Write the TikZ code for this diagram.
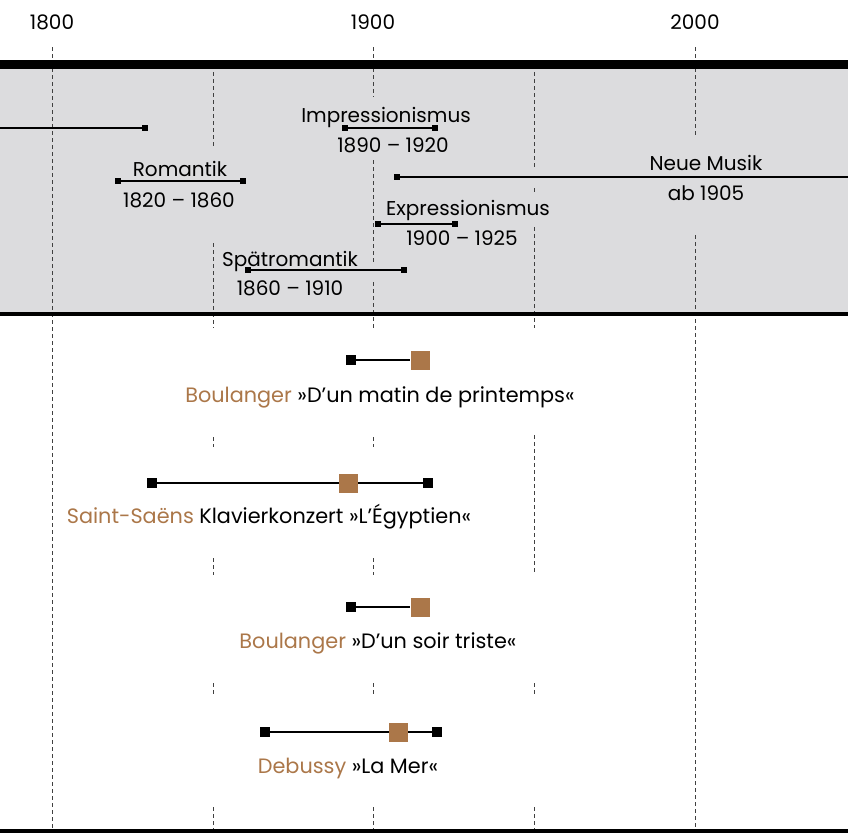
\documentclass[tikz,border=0pt]{standalone}
\usepackage{fontspec}
\setmainfont{Poppins}
\definecolor{band}{HTML}{DCDCDE}
\definecolor{ocker}{HTML}{AB7749}

\begin{document}
\begin{tikzpicture}[x=0.5pt,y=-0.5pt,
  lbl/.style={anchor=base,inner sep=0pt,font=\fontsize{10}{12}\selectfont},
  werk/.style={anchor=base,inner sep=0pt,font=\fontsize{10.4}{13}\selectfont},
  mk/.style={fill=black,minimum size=3pt,inner sep=0pt},
  wmk/.style={fill=black,minimum size=5pt,inner sep=0pt},
  jahr/.style={fill=ocker,minimum size=9.5pt,inner sep=0pt},
  epoche/.style={line width=0.65pt},
  dauer/.style={line width=1.3pt},
  raster/.style={line width=0.5pt,black!75,dash pattern=on 2pt off 1.5pt}]
\useasboundingbox (0,0) rectangle (848,832);
\fill[band] (0,64) rectangle (848,313);

% Jahresraster
\foreach \x/\a/\b in {52/47/832,
    213/65/147, 213/243/328, 213/437/447, 213/558/575, 213/683/697, 213/807/832,
    373/47/97, 373/160/263, 373/282/328, 373/437/447, 373/558/575, 373/683/697, 373/807/832,
    534/65/170, 534/188/192, 534/227/328, 534/435/575, 534/683/697, 534/807/832,
    695/47/138, 695/235/832}
  \draw[raster] (\x,\a) -- (\x,\b);

\node[lbl] (j1800) at (52,29) {1800};
\node[lbl] (j1900) at (373,29) {1900};
\node[lbl] (j2000) at (695,29) {2000};

\draw[line width=4.5pt] (0,64.5) -- (848,64.5);
\draw[line width=2pt] (0,313.5) -- (848,313.5);
\draw[line width=2pt] (0,831) -- (848,831);

% Epochen
\coordinate (kl0) at (0,128);
\node[mk] (kl1) at (145,128) {};
\path[draw,epoche] (kl0) -- (kl1);

\node[mk] (imp1) at (345,128) {};
\node[mk] (imp2) at (435,128) {};
\path[draw,epoche] (imp1) -- (imp2);
\node[lbl] (impname) at (386,122) {Impressionismus};
\node[lbl] (impzeit) at (393,152) {1890 – 1920};

\node[mk] (rom1) at (118,181) {};
\node[mk] (rom2) at (243,181) {};
\path[draw,epoche] (rom1) -- (rom2);
\node[lbl] (romname) at (180,176) {Romantik};
\node[lbl] (romzeit) at (179,207) {1820 – 1860};

\node[mk] (nm1) at (397,177) {};
\coordinate (nm2) at (848,177);
\path[draw,epoche] (nm1) -- (nm2);
\node[lbl] (nmname) at (706,170) {Neue Musik};
\node[lbl] (nmzeit) at (706,200) {ab 1905};

\node[mk] (exp1) at (378,224) {};
\node[mk] (exp2) at (455,224) {};
\path[draw,epoche] (exp1) -- (exp2);
\node[lbl] (expname) at (468,215) {Expressionismus};
\node[lbl] (expzeit) at (462,245) {1900 – 1925};

\node[mk] (spr1) at (248,270) {};
\node[mk] (spr2) at (404,270) {};
\path[draw,epoche] (spr1) -- (spr2);
\node[lbl] (sprname) at (290,266) {Spätromantik};
\node[lbl] (sprzeit) at (290,295) {1860 – 1910};

% Werke
\node[wmk] (bm1) at (351,360) {};
\node[jahr] (bm2) at (420,360) {};
\path[draw,dauer] (bm1) -- (bm2);
\node[werk] (bmtxt) at (380,402) {{\color{ocker}Boulanger} »D’un matin de printemps«};

\node[wmk] (ss1) at (152,483) {};
\node[wmk] (ss2) at (428,483) {};
\path[draw,dauer] (ss1) -- (ss2);
\node[jahr] (ssj) at (348,483) {};
\node[werk] (sstxt) at (269,523) {{\color{ocker}Saint-Saëns} Klavierkonzert »L’Égyptien«};

\node[wmk] (bs1) at (351,607) {};
\node[jahr] (bs2) at (420,607) {};
\path[draw,dauer] (bs1) -- (bs2);
\node[werk] (bstxt) at (378,648) {{\color{ocker}Boulanger} »D’un soir triste«};

\node[wmk] (dm1) at (265,732) {};
\node[wmk] (dm2) at (437,732) {};
\path[draw,dauer] (dm1) -- (dm2);
\node[jahr] (dmj) at (398,732) {};
\node[werk] (dmtxt) at (348,773) {{\color{ocker}Debussy} »La Mer«};
\end{tikzpicture}
\end{document}
